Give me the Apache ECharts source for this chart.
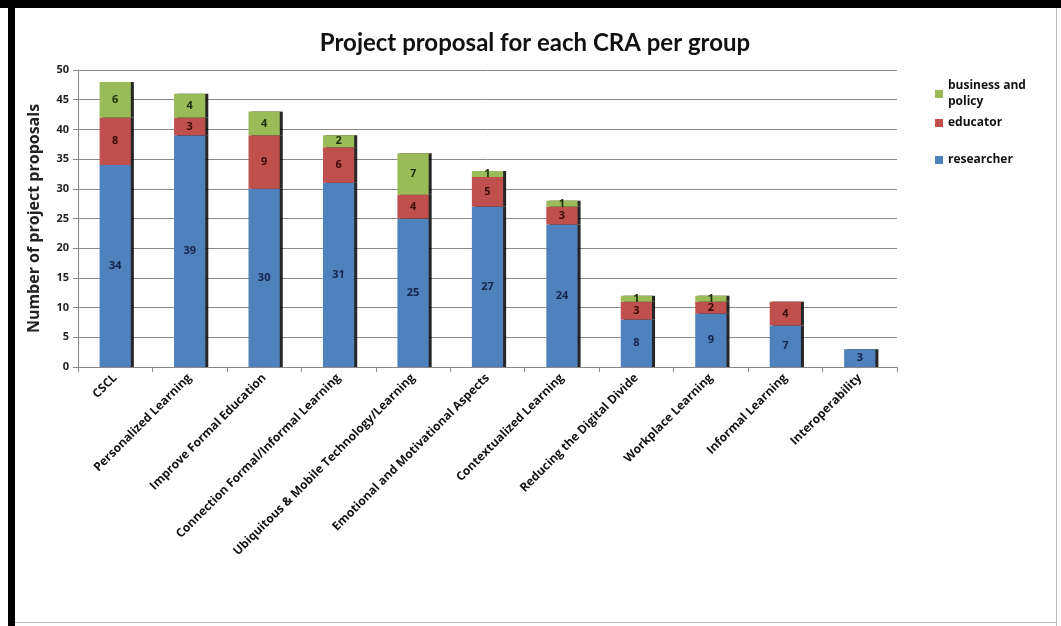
<!DOCTYPE html>
<html>
<head>
<meta charset="utf-8">
<script src="https://cdn.jsdelivr.net/npm/echarts@6/dist/echarts.min.js"></script>
<style>
html,body{margin:0;padding:0;background:#fff;}
#wrap{position:relative;width:1061px;height:626px;overflow:hidden;background:#fff;}
#chart{position:absolute;left:0;top:0;width:1061px;height:626px;}
.bTop{position:absolute;left:0;top:0;width:1061px;height:8px;background:#000;}
.bLeft{position:absolute;left:8px;top:0;width:7px;height:626px;background:#000;}
.bRight{position:absolute;left:1056px;top:8px;width:1px;height:618px;background:#bbb;}
.bBot{position:absolute;left:15px;top:622px;width:1042px;height:1px;background:#bbb;}
</style>
</head>
<body>
<div id="wrap">
<div id="chart"></div>
<div class="bTop"></div><div class="bLeft"></div><div class="bRight"></div><div class="bBot"></div>
</div>
<script>
var categories = ['CSCL','Personalized Learning','Improve Formal Education','Connection Formal/Informal Learning','Ubiquitous & Mobile Technology/Learning','Emotional and Motivational Aspects','Contextualized Learning','Reducing the Digital Divide','Workplace Learning','Informal Learning','Interoperability'];
var researcher = [34,39,30,31,25,27,24,8,9,7,3];
var educator = [8,3,9,6,4,5,3,3,2,4,0];
var business = [6,4,4,2,7,1,1,1,1,0,0];
var yTicks = [0,5,10,15,20,25,30,35,40,45,50];

var FONT = '"Open Sans", "Liberation Sans", sans-serif';
function mkLabel(color){
  return {show:true, position:'inside', color:color, fontWeight:'bold', fontSize:11, fontFamily:FONT,
    formatter:function(p){return p.value ? p.value : '';}};
}
var shadow = {shadowColor:'rgba(0,0,0,0.85)', shadowOffsetX:3, shadowOffsetY:0, shadowBlur:0, borderWidth:0};

var chart = echarts.init(document.getElementById('chart'), null, {renderer:'canvas'});
chart.setOption({
  animation:false,
  backgroundColor:'transparent',
  title:{text:'Project proposal for each CRA per group', left:530, textAlign:'center', top:26,
    textStyle:{fontFamily:'Lato, sans-serif', fontWeight:'bold', fontSize:24, color:'#111'}},
  legend:[
    {data:['business and policy'], left:930, top:73, orient:'vertical', icon:'rect', itemWidth:8, itemHeight:8,
      formatter:function(){return 'business and\npolicy';},
      textStyle:{fontFamily:FONT, fontWeight:'bold', fontSize:12, color:'#111', lineHeight:16}},
    {data:['educator'], left:930, top:112, orient:'vertical', icon:'rect', itemWidth:8, itemHeight:8,
      textStyle:{fontFamily:FONT, fontWeight:'bold', fontSize:12, color:'#111'}},
    {data:['researcher'], left:930, top:149, orient:'vertical', icon:'rect', itemWidth:8, itemHeight:8,
      textStyle:{fontFamily:FONT, fontWeight:'bold', fontSize:12, color:'#111'}}
  ],
  grid:{left:78, right:164, top:70, bottom:259, containLabel:false},
  xAxis:{type:'category', data:categories,
    axisLine:{lineStyle:{color:'#888'}},
    axisTick:{show:true, alignWithLabel:false, length:5, lineStyle:{color:'#888'}},
    axisLabel:{rotate:45, interval:0, margin:9, fontFamily:FONT, fontWeight:'bold', fontSize:12, color:'#111'}},
  yAxis:{type:'value', min:0, max:50, interval:5,
    name:'Number of project proposals', nameLocation:'middle', nameGap:36, nameRotate:90,
    nameTextStyle:{fontFamily:FONT, fontWeight:'bold', fontSize:16, color:'#222'},
    axisLine:{show:true, lineStyle:{color:'#888'}},
    axisTick:{show:true, length:5, lineStyle:{color:'#888'}},
    splitLine:{lineStyle:{color:'#8a8a8a', width:1}},
    axisLabel:{fontFamily:FONT, fontWeight:'bold', fontSize:11, color:'#222', margin:9,
      formatter:function(v){return yTicks.indexOf(v)>=0 ? String(v) : '';}}},
  series:[
    {name:'researcher', type:'bar', stack:'s', data:researcher, barWidth:'42%',
      itemStyle:Object.assign({color:'#4f81bd'}, shadow), label:mkLabel('#14244a')},
    {name:'educator', type:'bar', stack:'s', data:educator,
      itemStyle:Object.assign({color:'#c0504d'}, shadow), label:mkLabel('#3a0a08')},
    {name:'business and policy', type:'bar', stack:'s', data:business,
      itemStyle:Object.assign({color:'#9bbb59'}, shadow), label:mkLabel('#1c2e08')}
  ]
});
</script>
</body>
</html>
